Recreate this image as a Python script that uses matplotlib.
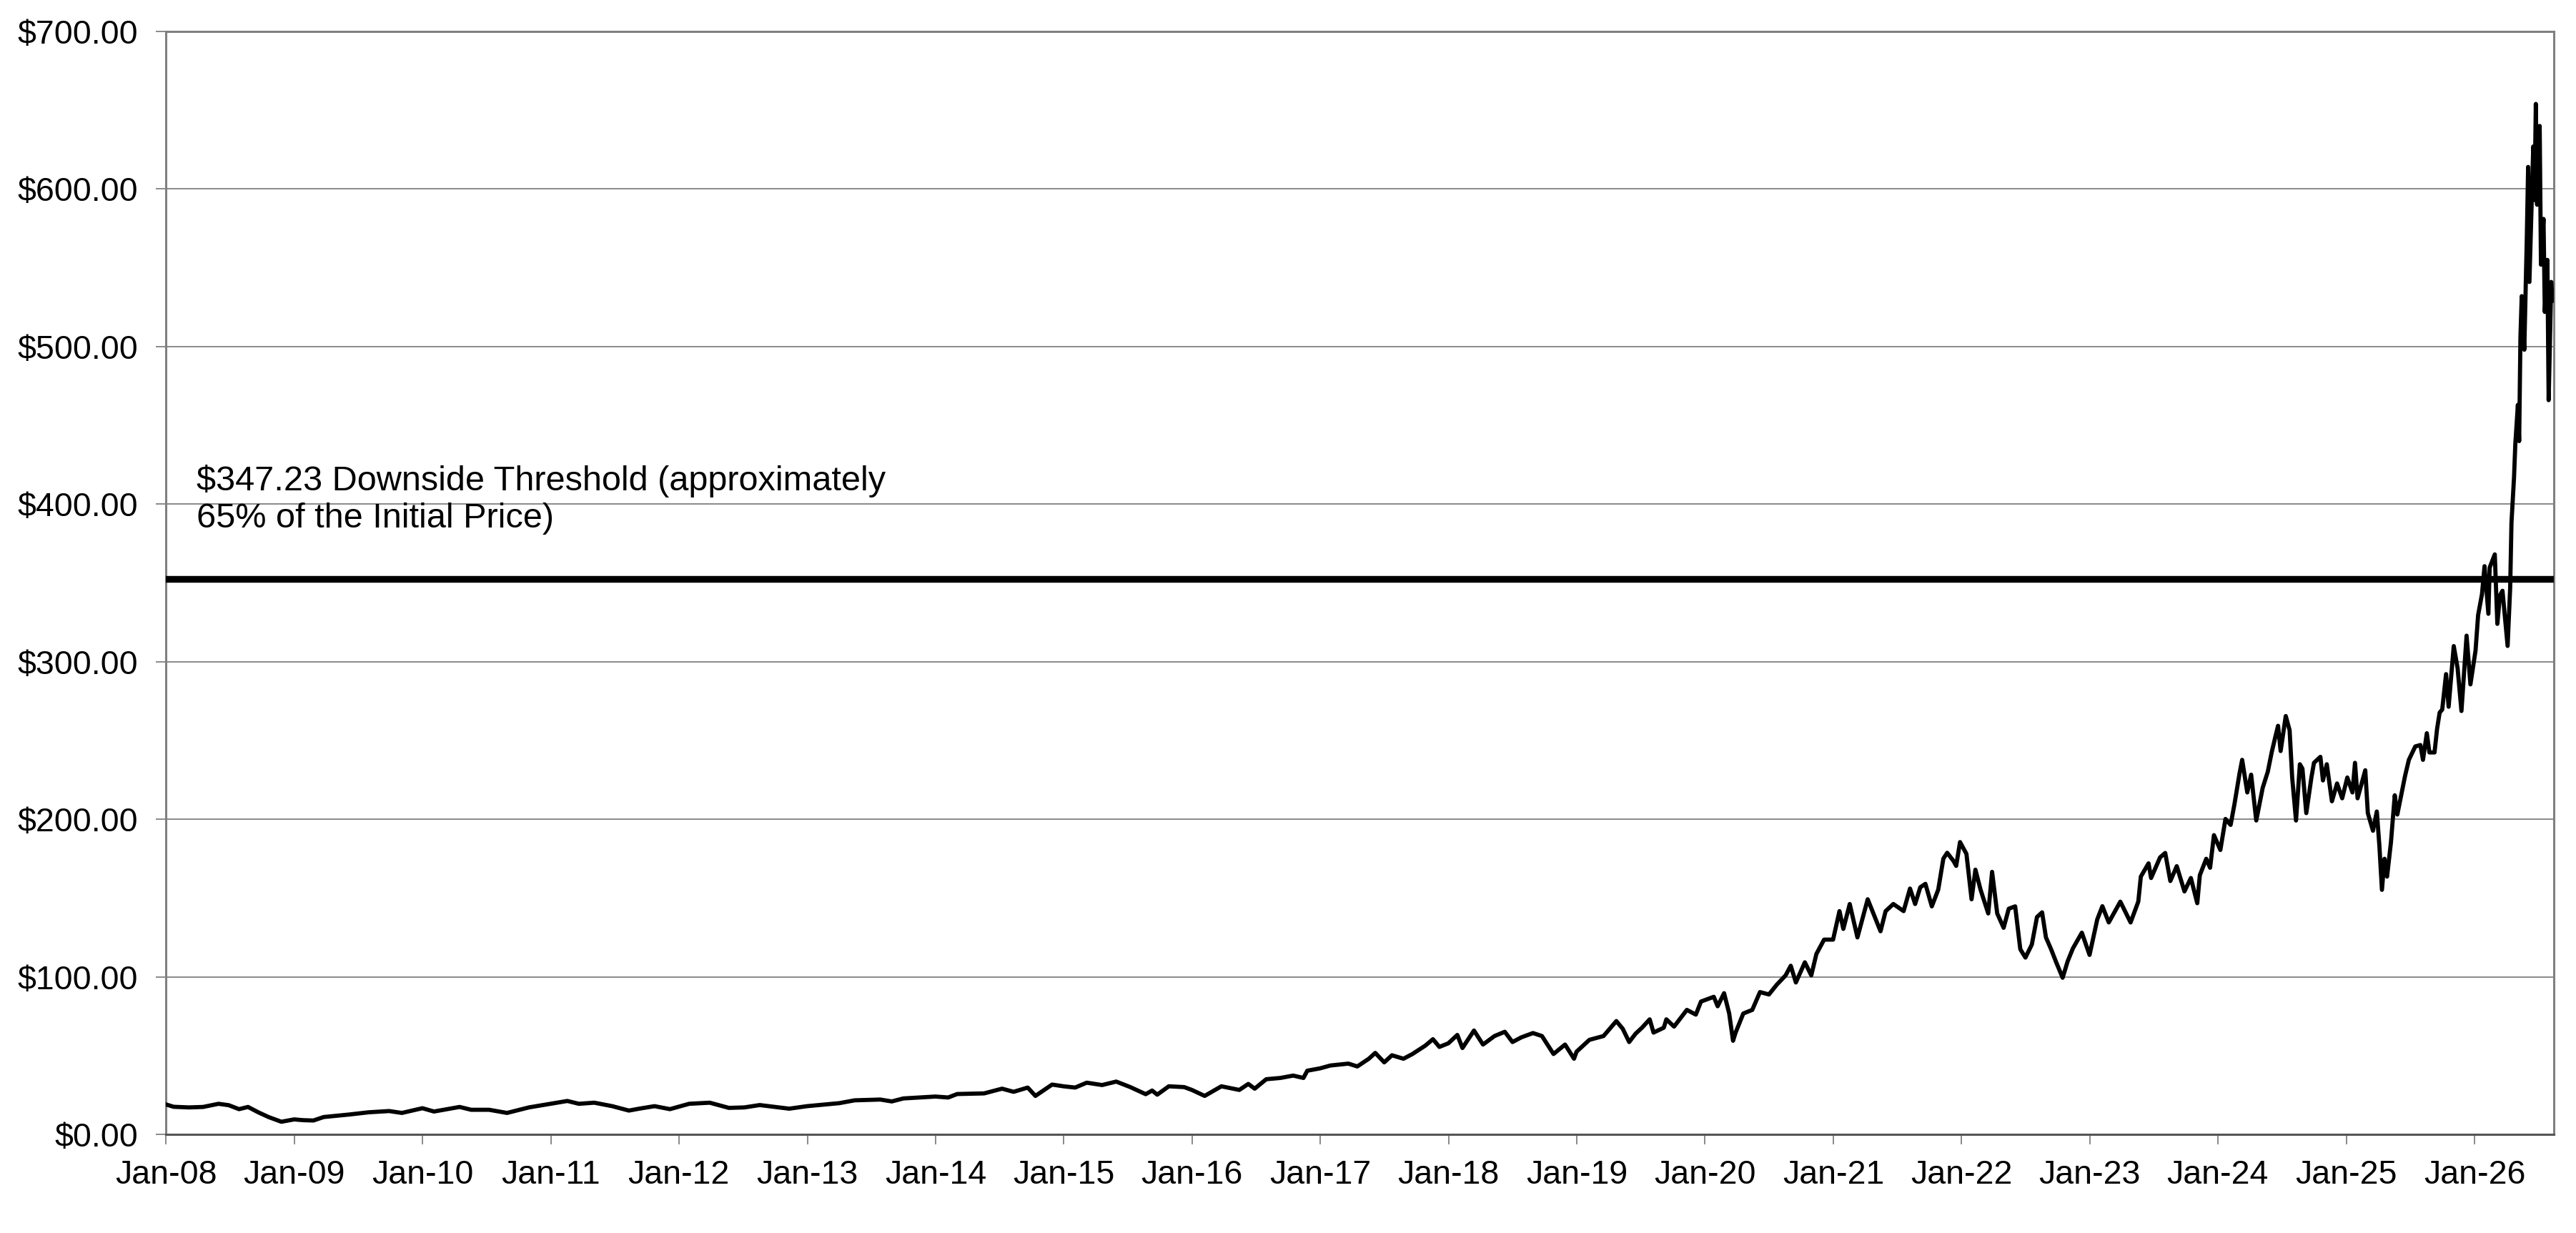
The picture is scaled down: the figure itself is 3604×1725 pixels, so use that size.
import pandas as pd
import matplotlib.pyplot as plt
import matplotlib.dates as mdates
from matplotlib.ticker import FuncFormatter

plt.rcParams['font.family'] = ['Liberation Sans', 'DejaVu Sans']

# price, time as decimal year
years = [
    2008.00, 2008.06, 2008.18, 2008.29, 2008.41, 2008.49, 2008.57, 2008.64, 2008.72, 2008.80,
    2008.90, 2009.00, 2009.07, 2009.15, 2009.23, 2009.43, 2009.58, 2009.74, 2009.84, 2010.00,
    2010.09, 2010.29, 2010.38, 2010.52, 2010.66, 2010.83, 2011.00, 2011.13, 2011.22, 2011.34,
    2011.48, 2011.61, 2011.69, 2011.81, 2011.93, 2012.08, 2012.24, 2012.39, 2012.51, 2012.63,
    2012.86, 2013.00, 2013.25, 2013.37, 2013.57, 2013.66, 2013.75, 2014.00, 2014.10, 2014.17,
    2014.38, 2014.52, 2014.61, 2014.72, 2014.78, 2014.91, 2015.00, 2015.09, 2015.18, 2015.30,
    2015.41, 2015.52, 2015.64, 2015.69, 2015.73, 2015.82, 2015.94, 2016.00, 2016.10, 2016.23,
    2016.37, 2016.44, 2016.49, 2016.58, 2016.69, 2016.79, 2016.87, 2016.90, 2017.00, 2017.08,
    2017.22, 2017.29, 2017.38, 2017.43, 2017.50, 2017.56, 2017.65, 2017.72, 2017.82, 2017.88,
    2017.93, 2018.00, 2018.07, 2018.11, 2018.20, 2018.27, 2018.36, 2018.44, 2018.50, 2018.57,
    2018.66, 2018.73, 2018.82, 2018.91, 2018.98, 2019.00, 2019.10, 2019.21, 2019.31, 2019.36,
    2019.41, 2019.46, 2019.51, 2019.57, 2019.60, 2019.68, 2019.70, 2019.76, 2019.86, 2019.93,
    2019.97, 2020.07, 2020.10, 2020.15, 2020.19, 2020.22, 2020.24, 2020.30, 2020.37, 2020.43,
    2020.50, 2020.56, 2020.63, 2020.67, 2020.71, 2020.78, 2020.83, 2020.87, 2020.93, 2021.00,
    2021.05, 2021.08, 2021.13, 2021.19, 2021.27, 2021.37, 2021.41, 2021.47, 2021.55, 2021.60,
    2021.64, 2021.68, 2021.72, 2021.77, 2021.82, 2021.86, 2021.89, 2021.94, 2021.96, 2021.99,
    2022.04, 2022.08, 2022.11, 2022.15, 2022.21, 2022.24, 2022.28, 2022.33, 2022.37, 2022.42,
    2022.46, 2022.50, 2022.55, 2022.59, 2022.63, 2022.66, 2022.70, 2022.74, 2022.79, 2022.83,
    2022.87, 2022.94, 2023.00, 2023.06, 2023.10, 2023.15, 2023.24, 2023.32, 2023.38, 2023.40,
    2023.46, 2023.48, 2023.55, 2023.59, 2023.63, 2023.68, 2023.74, 2023.79, 2023.84, 2023.86,
    2023.91, 2023.94, 2023.97, 2024.02, 2024.06, 2024.10, 2024.13, 2024.17, 2024.19, 2024.23,
    2024.26, 2024.30, 2024.35, 2024.39, 2024.42, 2024.45, 2024.47, 2024.49, 2024.53, 2024.56,
    2024.58, 2024.61, 2024.64, 2024.66, 2024.69, 2024.73, 2024.75, 2024.80, 2024.82, 2024.85,
    2024.89, 2024.93, 2024.97, 2025.01, 2025.05, 2025.07, 2025.09, 2025.15, 2025.17, 2025.21,
    2025.24, 2025.26, 2025.28, 2025.30, 2025.32, 2025.35, 2025.38, 2025.40, 2025.43, 2025.46,
    2025.49, 2025.54, 2025.58, 2025.60, 2025.63, 2025.65, 2025.69, 2025.71, 2025.73, 2025.75,
    2025.78, 2025.80, 2025.84, 2025.87, 2025.90, 2025.94, 2025.97, 2026.01, 2026.03, 2026.06,
    2026.08, 2026.11, 2026.12, 2026.16, 2026.18, 2026.20, 2026.22, 2026.26, 2026.28, 2026.29,
    2026.31, 2026.32, 2026.34, 2026.35, 2026.36, 2026.37, 2026.39, 2026.41, 2026.42, 2026.43,
    2026.46, 2026.47, 2026.48, 2026.49, 2026.51, 2026.52, 2026.54, 2026.55, 2026.57, 2026.58,
    2026.60, 2026.61, 2026.62,
]
prices = [
    19.0, 17.5, 17.1, 17.4, 19.4, 18.5, 16.0, 17.4, 14.0, 11.0,
    8.0, 9.5, 9.0, 8.8, 11.0, 12.6, 14.0, 14.8, 13.6, 16.6,
    14.5, 17.4, 15.6, 15.6, 13.6, 17.1, 19.4, 21.2, 19.4, 20.1,
    17.9, 15.1, 16.3, 17.9, 16.0, 19.4, 20.1, 16.8, 17.1, 18.6,
    16.3, 17.9, 19.8, 21.6, 22.1, 20.9, 22.8, 24.0, 23.4, 25.6,
    26.0, 29.0, 27.0, 29.7, 24.4, 31.6, 30.5, 29.7, 32.8, 31.3,
    33.5, 30.0, 25.5, 27.8, 25.2, 30.5, 30.0, 28.2, 24.4, 30.5,
    28.2, 32.0, 29.0, 35.0, 35.8, 37.3, 35.8, 40.4, 41.9, 43.7,
    44.9, 43.1, 48.0, 51.7, 45.7, 50.2, 48.0, 51.0, 56.3, 60.4,
    55.5, 57.8, 63.1, 54.8, 65.9, 57.0, 62.4, 65.1, 58.6, 61.6,
    64.3, 62.4, 51.0, 57.0, 48.0, 52.5, 60.0, 62.4, 71.9, 67.0,
    58.6, 63.9, 67.7, 73.0, 64.6, 67.7, 73.0, 68.4, 79.0, 76.0,
    84.3, 87.3, 81.3, 89.6, 76.7, 59.4, 64.6, 76.7, 79.0, 90.3,
    88.8, 94.9, 100.9, 107.0, 96.4, 109.2, 100.9, 114.5, 123.6, 123.6,
    141.7, 130.4, 146.2, 125.0, 149.2, 128.9, 141.7, 146.2, 141.7, 156.0,
    146.2, 156.8, 159.0, 144.7, 155.3, 175.0, 178.7, 173.4, 170.4, 185.5,
    178.0, 149.2, 168.0, 155.3, 140.2, 166.6, 140.2, 131.1, 143.2, 144.7,
    117.5, 112.2, 120.5, 137.9, 140.9, 125.0, 117.5, 109.2, 99.4, 110.0,
    118.0, 128.0, 113.9, 136.4, 144.8, 134.5, 147.7, 134.5, 147.7, 163.6,
    172.0, 162.7, 175.8, 178.6, 160.8, 170.2, 154.2, 162.7, 146.7, 164.5,
    174.9, 169.2, 189.9, 180.5, 200.2, 196.4, 209.6, 229.3, 237.7, 217.0,
    228.3, 199.2, 219.9, 230.2, 242.4, 252.7, 259.3, 243.3, 265.5, 256.5,
    226.5, 199.2, 234.9, 232.1, 203.9, 226.5, 235.8, 239.6, 224.6, 234.9,
    211.4, 222.7, 213.3, 226.5, 217.0, 235.8, 213.3, 231.1, 203.9, 192.7,
    204.9, 183.3, 155.2, 174.9, 163.6, 185.2, 215.2, 203.0, 215.2, 227.4,
    237.7, 246.2, 247.1, 237.7, 254.6, 242.4, 242.4, 257.4, 267.7, 269.6,
    292.1, 271.4, 309.9, 295.9, 268.7, 316.5, 285.6, 307.1, 329.6, 342.8,
    360.6, 330.4, 359.7, 368.1, 324.0, 342.0, 345.0, 310.0, 347.0, 388.0,
    417.0, 438.0, 463.0, 440.0, 506.0, 532.0, 498.0, 570.0, 614.0, 541.0,
    627.0, 593.0, 654.0, 590.0, 640.0, 552.0, 581.0, 522.0, 555.0, 466.0,
    541.0, 529.0, 534.0,
]

threshold = 352.5
threshold_label = "$347.23 Downside Threshold (approximately\n65% of the Initial Price)"
x_start = 2008.0
x_end = 2026.62


def to_date(y):
    return pd.Timestamp('2008-01-01') + pd.to_timedelta((y - 2008.0) * 365.25, unit='D')


dates = [to_date(y) for y in years]

fig = plt.figure(figsize=(36.05, 17.25), dpi=100)
ax = fig.add_axes([0.0644, 0.0800, 0.9267, 0.8945])

ax.plot(dates, prices, color='black', lw=4.2, zorder=3)
ax.axhline(threshold, color='black', lw=6.8, zorder=4)

ax.text(to_date(2008.24), 425, threshold_label, fontsize=35, va='top', ha='left',
        linespacing=1.2, zorder=5)

ax.set_xlim(to_date(x_start), to_date(x_end))
ax.set_ylim(0, 700)
ax.set_yticks(range(0, 701, 100))
ax.yaxis.set_major_formatter(FuncFormatter(lambda v, p: '${:.2f}'.format(v)))
ax.xaxis.set_major_locator(mdates.YearLocator(1, month=1, day=1))
ax.xaxis.set_major_formatter(mdates.DateFormatter('%b-%y'))

ax.grid(axis='y', color='#808080', lw=1.3, zorder=1)
ax.tick_params(axis='both', labelsize=33.5, length=10, width=1.3, color='#808080', direction='out')
ax.tick_params(axis='y', pad=18)
ax.tick_params(axis='x', pad=15)

for side in ['top', 'right', 'left', 'bottom']:
    ax.spines[side].set_color('#808080')
    ax.spines[side].set_linewidth(2.2)
ax.spines['bottom'].set_color('#555555')

fig.savefig('out.png', dpi=100)
